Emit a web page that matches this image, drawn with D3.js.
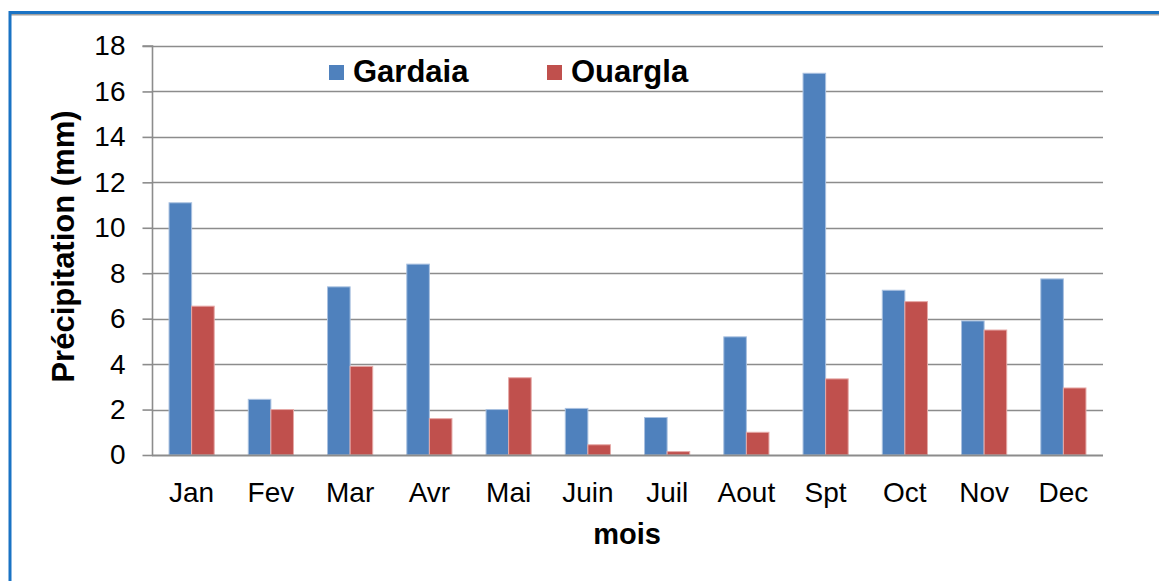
<!DOCTYPE html>
<html><head><meta charset="utf-8">
<script src="https://cdn.jsdelivr.net/npm/d3@7"></script>
<style>
html,body{margin:0;padding:0;background:#fff;}
svg text{font-family:"Liberation Sans",Arial,sans-serif;}
</style></head>
<body><svg id="c" width="1159" height="581"></svg>
<script>
const months = ["Jan","Fev","Mar","Avr","Mai","Juin","Juil","Aout","Spt","Oct","Nov","Dec"];
const seriesNames = ["Gardaia","Ouargla"];
const gardaia = [11.1,2.45,7.4,8.4,2.0,2.05,1.65,5.2,16.8,7.25,5.9,7.75];
const ouargla = [6.55,2.0,3.9,1.6,3.4,0.45,0.15,1.0,3.35,6.75,5.5,2.95];
const yTicks = [0,2,4,6,8,10,12,14,16,18];
const colors = ["#4F81BD","#C0504D"];
const strokes = ["#a9c1e0","#e6a9a7"];

const svg = d3.select("#c");
// frame
svg.append("line").attr("x1",10).attr("x2",1159).attr("y1",14.5).attr("y2",14.5).attr("stroke","#a0a0a0").attr("stroke-width",2);
svg.append("line").attr("x1",10).attr("x2",1159).attr("y1",12.5).attr("y2",12.5).attr("stroke","#1a73c4").attr("stroke-width",3);
svg.append("line").attr("x1",10).attr("x2",10).attr("y1",11).attr("y2",581).attr("stroke","#1a73c4").attr("stroke-width",3);

const L=152, R=1103, T=46, B=455;
const y = d3.scaleLinear().domain([0,18]).range([B,T]);
const x0 = d3.scaleBand().domain(months).range([L,R]).paddingInner(0.43).paddingOuter(0.215);
const x1 = d3.scaleBand().domain(seriesNames).range([0,x0.bandwidth()]);

// gridlines
svg.append("g").selectAll("line").data(yTicks.slice(1)).join("line")
  .attr("x1",L).attr("x2",R).attr("y1",d=>Math.round(y(d))+0.5).attr("y2",d=>Math.round(y(d))+0.5)
  .attr("stroke","#8c8c8c").attr("stroke-width",1.6);

// y axis
const ya = svg.append("g").attr("transform",`translate(${L+0.5},0)`)
  .call(d3.axisLeft(y).tickValues(yTicks).tickSize(10).tickPadding(17).tickFormat(d3.format("d")));
ya.select(".domain").attr("stroke","#8c8c8c").attr("stroke-width",1.6).attr("d",`M-10,${T}H0V${B}`);
ya.selectAll(".tick line").attr("stroke","#8c8c8c").attr("stroke-width",1.6);
ya.selectAll(".tick text").attr("font-size",28).attr("fill","#000").attr("font-family","Liberation Sans, Arial, sans-serif");

// bars
const data = months.map((m,i)=>({m, vals:[gardaia[i],ouargla[i]]}));
const g = svg.append("g");
data.forEach(d=>{
  d.vals.forEach((v,j)=>{
    g.append("rect")
      .attr("x",x0(d.m)+x1(seriesNames[j])).attr("width",x1.bandwidth())
      .attr("y",y(v)).attr("height",B-y(v))
      .attr("fill",colors[j]).attr("stroke",strokes[j]).attr("stroke-width",1);
  });
});

// x axis line
svg.append("line").attr("x1",L).attr("x2",R).attr("y1",B+0.5).attr("y2",B+0.5).attr("stroke","#8c8c8c").attr("stroke-width",1.8);
const xa = svg.append("g").attr("transform",`translate(0,${B})`)
  .call(d3.axisBottom(x0).tickSize(0).tickPadding(27));
xa.select(".domain").remove();
xa.selectAll(".tick text").attr("font-size",28).attr("fill","#000").attr("font-family","Liberation Sans, Arial, sans-serif").attr("dy","0.71em");

// axis titles
svg.append("text").attr("x",627).attr("y",544).attr("text-anchor","middle")
  .attr("font-size",29).attr("font-weight","bold").text("mois");
svg.append("text").attr("transform",`translate(74,${(T+B)/2-4}) rotate(-90)`).attr("text-anchor","middle")
  .attr("font-size",31).attr("font-weight","bold").text("Précipitation (mm)");

// legend
const legX = [329,547];
seriesNames.forEach((s,j)=>{
  svg.append("rect").attr("x",legX[j]).attr("y",65).attr("width",15).attr("height",15).attr("fill",colors[j]);
  svg.append("text").attr("x",legX[j]+24).attr("y",82).attr("font-size",31).attr("font-weight","bold").text(s);
});
</script></body></html>
